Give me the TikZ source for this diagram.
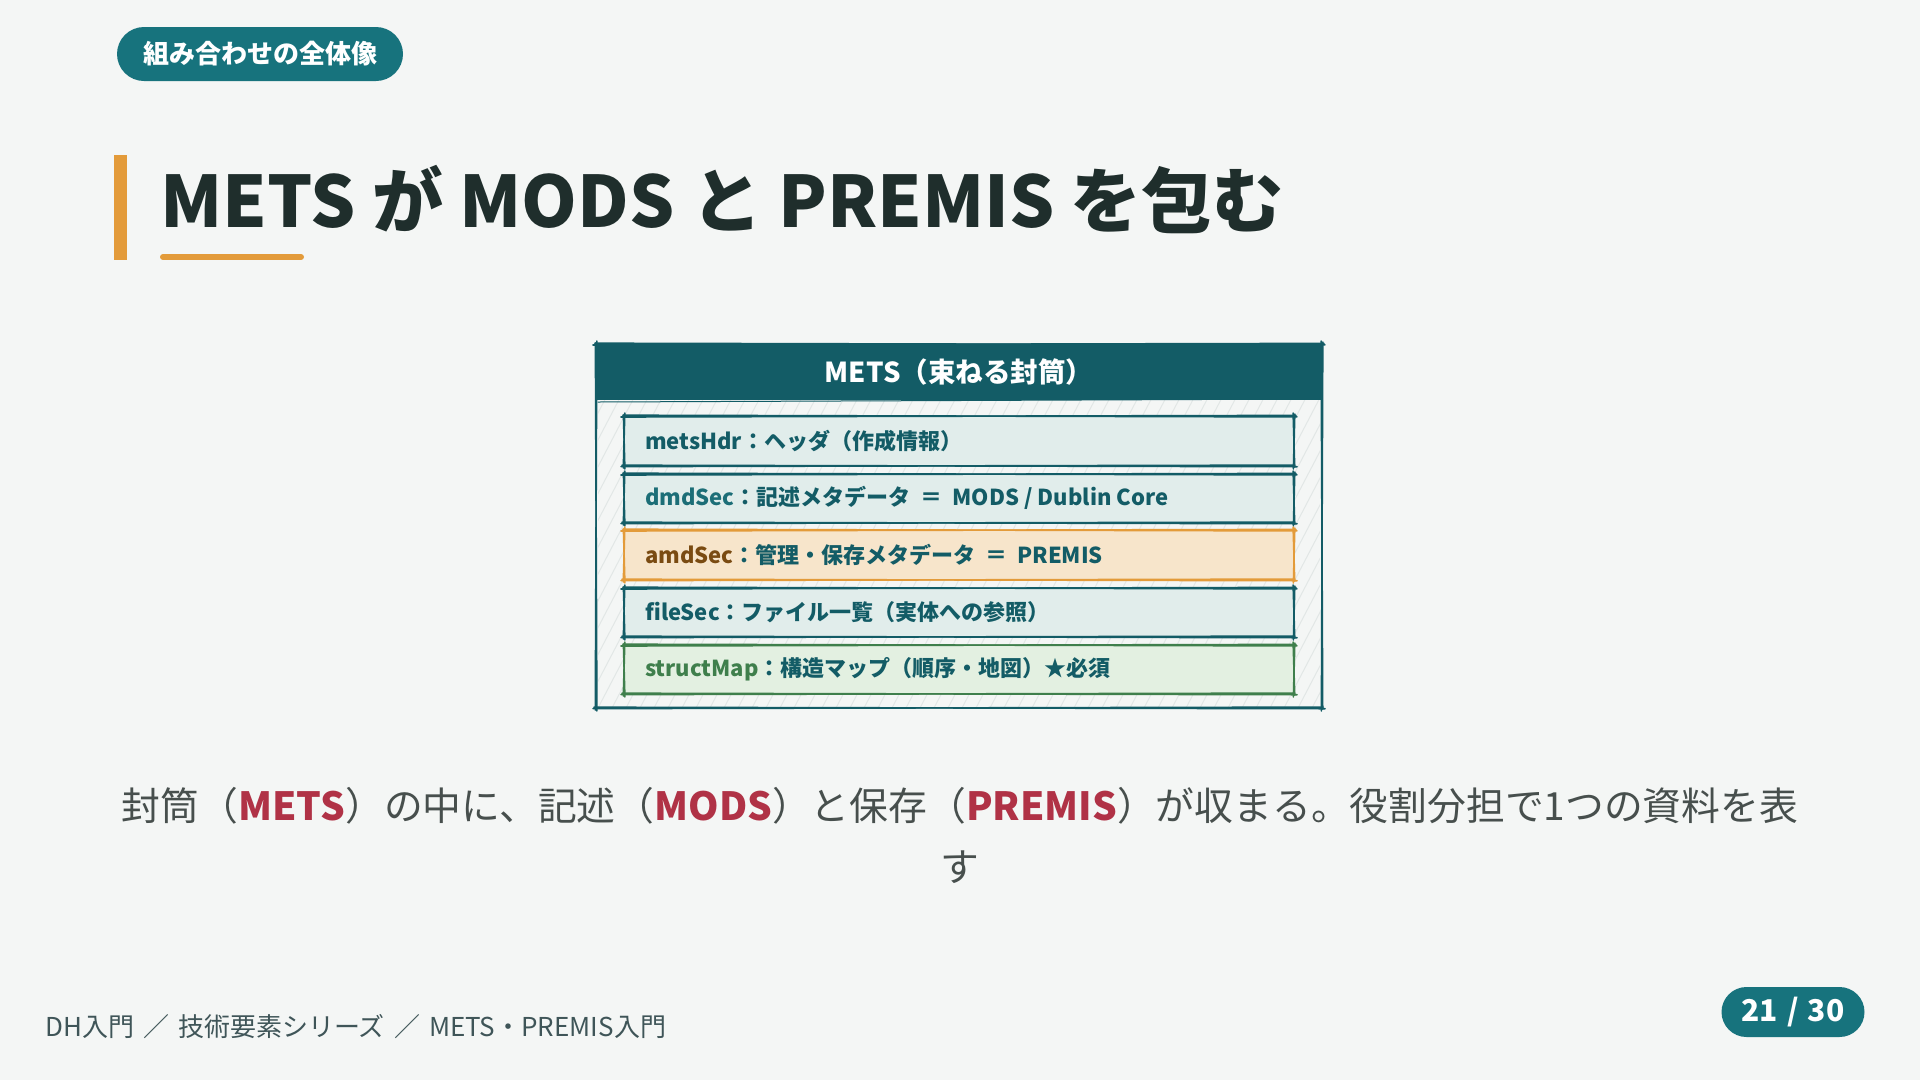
\documentclass[tikz,border=0pt]{standalone}
\usepackage{fontspec}
\setmainfont{Noto Sans CJK JP}
\definecolor{bg}{HTML}{F4F6F5}
\definecolor{pillc}{HTML}{17737D}
\definecolor{orangec}{HTML}{E39B3A}
\definecolor{titlec}{HTML}{1F2E2C}
\definecolor{tealdark}{HTML}{135C66}
\definecolor{tealmid}{HTML}{1C6E77}
\definecolor{rowteal}{HTML}{E1EDEB}
\definecolor{roworange}{HTML}{F7E5CB}
\definecolor{rowgreen}{HTML}{E3F0E1}
\definecolor{greenc}{HTML}{3F7F4C}
\definecolor{brownc}{HTML}{7A4B12}
\definecolor{bodyc}{HTML}{474F4D}
\definecolor{redc}{HTML}{B03246}
\definecolor{footc}{HTML}{3F5558}
\definecolor{hatch}{HTML}{E2E7E6}
\newcommand\skrect[5]{%
  \draw[#1] ({#2-3},{#3+1}) -- ({#4+2},{#3-0.6});
  \draw[#1] ({#2-1},{#3-0.8}) -- ({#4+3},{#3+0.9});
  \draw[#1] ({#4+0.8},{#3-2}) -- ({#4-0.6},{#5+3});
  \draw[#1] ({#4-0.9},{#3-3}) -- ({#4+0.7},{#5+1});
  \draw[#1] ({#4+3},{#5+0.7}) -- ({#2-2},{#5-0.8});
  \draw[#1] ({#4+1},{#5-0.9}) -- ({#2-3},{#5+0.6});
  \draw[#1] ({#2-0.7},{#5+2}) -- ({#2+0.8},{#3-3});
  \draw[#1] ({#2+0.9},{#5+3}) -- ({#2-0.6},{#3-1});
}
\newcommand\eqsep{\hspace{0.45em}＝\hspace{0.45em}}
\tikzset{
  pill/.style={fill=pillc, text=white, rounded corners=25pt, inner sep=0pt, font=\bfseries},
  rowtext/.style={anchor=west, inner sep=0pt, font=\fontsize{22}{26}\selectfont\bfseries, text=tealdark},
  sk/.style={line width=1.6pt, line cap=round},
}
\begin{document}
\begin{tikzpicture}[x=1pt,y=-1pt]
\useasboundingbox[fill=bg] (0,0) rectangle (1920,1080);

% tag pill
\node[pill, minimum width=286pt, minimum height=54pt, rounded corners=27pt, font=\fontsize{26}{30}\selectfont\bfseries] (tag) at (260,54) {組み合わせの全体像};

% title
\fill[orangec] (114,155) rectangle (127,260);
\node[anchor=base west, inner sep=0pt, text=titlec, font=\fontsize{71}{80}\selectfont\bfseries] (title) at (160,227) {METS が MODS と PREMIS を包む};
\draw[orangec, line width=6pt, line cap=round] (163,257) -- (301,257);

% main box
\begin{scope}
  \clip (598,400) rectangle (1320,706);
  \foreach \i in {-200,-186,...,1330} {
    \draw[hatch, line width=1pt] (\i,708) -- ({\i+190},344);
  }
\end{scope}
\fill[tealdark] (596,344) rectangle (1322,400);
\skrect{sk, tealdark}{596}{344}{1322}{708}
\draw[sk, tealdark, line width=1pt] (598,402) -- (1320,399);
\node[text=white, inner sep=0pt, font=\fontsize{27.5}{32}\selectfont\bfseries] (hdr) at (959,372) {METS（束ねる封筒）};

% rows
\fill[rowteal] (624,416) rectangle (1294,466);
\skrect{sk, tealdark}{624}{416}{1294}{466}
\node[rowtext] (r1) at (645,441) {metsHdr：ヘッダ（作成情報）};

\fill[rowteal] (624,474) rectangle (1294,523);
\skrect{sk, tealdark}{624}{474}{1294}{523}
\node[rowtext] (r2) at (645,498) {\textcolor{tealmid}{dmdSec}：記述メタデータ\eqsep MODS / Dublin Core};

\fill[roworange] (624,530) rectangle (1294,580);
\skrect{sk, orangec}{624}{530}{1294}{580}
\node[rowtext] (r3) at (645,555) {\textcolor{brownc}{amdSec}：管理・保存メタデータ\eqsep PREMIS};

\fill[rowteal] (624,588) rectangle (1294,637);
\skrect{sk, tealdark}{624}{588}{1294}{637}
\node[rowtext] (r4) at (645,612) {fileSec：ファイル一覧（実体への参照）};

\fill[rowgreen] (624,645) rectangle (1294,694);
\skrect{sk, greenc}{624}{645}{1294}{694}
\node[rowtext] (r5) at (645,669) {\textcolor{greenc}{structMap}：構造マップ（順序・地図）★必須};

% body text
\node[align=center, inner sep=0pt, text=bodyc, font=\fontsize{38.8}{61}\selectfont] (body) at (960,835)
  {封筒（\textcolor{redc}{\bfseries METS}）の中に、記述（\textcolor{redc}{\bfseries MODS}）と保存（\textcolor{redc}{\bfseries PREMIS}）が収まる。役割分担で1つの資料を表\\す};

% footer
\node[anchor=west, inner sep=0pt, text=footc, font=\fontsize{26}{30}\selectfont] (foot) at (45,1027) {DH入門\hspace{0.35em}／\hspace{0.35em}技術要素シリーズ\hspace{0.35em}／\hspace{0.35em}METS・PREMIS入門};

\node[pill, minimum width=143pt, minimum height=50pt, font=\fontsize{30}{34}\selectfont\bfseries] (page) at (1793,1012) {21\hspace{0.3em}/\hspace{0.3em}30};
\end{tikzpicture}
\end{document}
